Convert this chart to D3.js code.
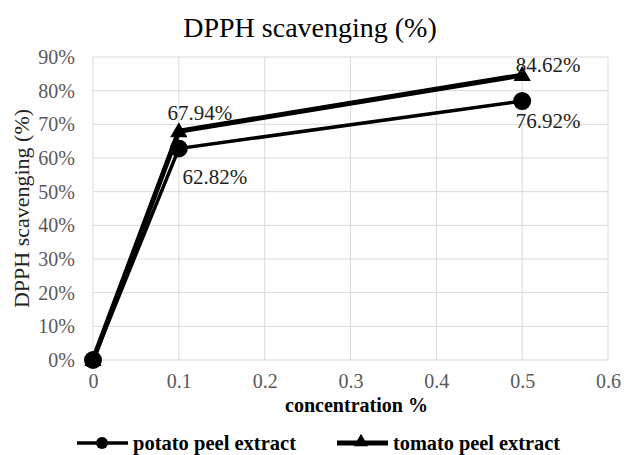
<!DOCTYPE html>
<html>
<head>
<meta charset="utf-8">
<script src="https://cdn.jsdelivr.net/npm/d3@7"></script>
<style>
  body { margin: 0; background: #fff; }
</style>
</head>
<body>
<svg id="chart" width="624" height="455"></svg>
<script>
// data
const concentrations = [0, 0.1, 0.5];
const potato = [0, 0.6282, 0.7692];
const tomato = [0, 0.6794, 0.8462];
const xTicks = [0, 0.1, 0.2, 0.3, 0.4, 0.5, 0.6];
const yTicks = [0, 0.1, 0.2, 0.3, 0.4, 0.5, 0.6, 0.7, 0.8, 0.9];
const seriesNames = ["potato peel extract", "tomato peel extract"];

const FONT = "'Liberation Serif', 'Times New Roman', serif";
const svg = d3.select("#chart");
const margin = { top: 57, right: 16, bottom: 95, left: 93 };
const width = 624, height = 455;

const x = d3.scaleLinear().domain([0, 0.6]).range([margin.left, width - margin.right]);
const y = d3.scaleLinear().domain([0, 0.9]).range([height - margin.bottom, margin.top]);

function translate(a, b) { return "translate(" + a + "," + b + ")"; }

// gridlines
svg.append("g").selectAll("line").data(yTicks).join("line")
  .attr("x1", x(0)).attr("x2", x(0.6))
  .attr("y1", d => y(d)).attr("y2", d => y(d))
  .attr("stroke", "#d9d9d9").attr("stroke-width", 1);
svg.append("g").selectAll("line").data(xTicks).join("line")
  .attr("x1", d => x(d)).attr("x2", d => x(d))
  .attr("y1", y(0)).attr("y2", y(0.9))
  .attr("stroke", "#d9d9d9").attr("stroke-width", 1);

// axes (labels only)
const yAxis = svg.append("g").attr("transform", translate(x(0) - 18, 0))
  .call(d3.axisLeft(y).tickValues(yTicks).tickFormat(d3.format(".0%")).tickSize(0).tickPadding(0));
yAxis.select(".domain").remove();
yAxis.selectAll("text").attr("font-family", FONT).attr("font-size", 20).attr("fill", "#595959");

const xAxis = svg.append("g").attr("transform", translate(0, y(0) + 14))
  .call(d3.axisBottom(x).tickValues(xTicks).tickFormat(d => d === 0 ? "0" : d3.format(".1f")(d)).tickSize(0).tickPadding(0));
xAxis.select(".domain").remove();
xAxis.selectAll("text").attr("font-family", FONT).attr("font-size", 20).attr("fill", "#595959");

// titles
svg.append("text").attr("x", 310).attr("y", 37).attr("text-anchor", "middle")
  .attr("font-family", FONT).attr("font-size", 28).attr("fill", "#000").text("DPPH scavenging (%)");
svg.append("text").attr("x", 285).attr("y", 412)
  .attr("font-family", FONT).attr("font-size", 21).attr("font-weight", "bold").attr("fill", "#000")
  .attr("textLength", 143).attr("lengthAdjust", "spacingAndGlyphs")
  .text("concentration %");
svg.append("text").attr("transform", translate(29, y(0.45)) + " rotate(-90)")
  .attr("text-anchor", "middle").attr("font-family", FONT).attr("font-size", 22).attr("fill", "#222")
  .text("DPPH scavenging (%)");

// lines
const line = d3.line().x((d, i) => x(concentrations[i])).y(d => y(d));
svg.append("path").datum(potato).attr("d", line)
  .attr("fill", "none").attr("stroke", "#000").attr("stroke-width", 3.5);
svg.append("path").datum(tomato).attr("d", line)
  .attr("fill", "none").attr("stroke", "#000").attr("stroke-width", 5);

// markers
const tri = d3.symbol().type(d3.symbolTriangle).size(130);
svg.append("g").selectAll("circle").data(potato).join("circle")
  .attr("cx", (d, i) => x(concentrations[i])).attr("cy", d => y(d))
  .attr("r", 9).attr("fill", "#000");
svg.append("g").selectAll("path").data(tomato).join("path")
  .attr("d", tri)
  .attr("transform", (d, i) => translate(x(concentrations[i]), y(d) + 1))
  .attr("fill", "#000");

// data labels
const fmt = d3.format(".2%");
const potatoLabelOffset = [null, [36, 35], [26, 27]];
const tomatoLabelOffset = [null, [21, -11], [26, -3]];
svg.append("g").selectAll("text").data(potato.slice(1)).join("text")
  .attr("x", (d, i) => x(concentrations[i + 1]) + potatoLabelOffset[i + 1][0])
  .attr("y", (d, i) => y(d) + potatoLabelOffset[i + 1][1])
  .attr("text-anchor", "middle").attr("font-family", FONT).attr("font-size", 21).attr("fill", "#222")
  .text(d => fmt(d));
svg.append("g").selectAll("text").data(tomato.slice(1)).join("text")
  .attr("x", (d, i) => x(concentrations[i + 1]) + tomatoLabelOffset[i + 1][0])
  .attr("y", (d, i) => y(d) + tomatoLabelOffset[i + 1][1])
  .attr("text-anchor", "middle").attr("font-family", FONT).attr("font-size", 21).attr("fill", "#222")
  .text(d => fmt(d));

// legend
const legend = svg.append("g").attr("transform", translate(0, 443));
const legendX = [77, 337];
const legendTextLen = [163, 167];
seriesNames.forEach(function(name, i) {
  const g = legend.append("g").attr("transform", translate(legendX[i], 0));
  g.append("line").attr("x1", 0).attr("x2", 51).attr("y1", 0).attr("y2", 0)
    .attr("stroke", "#000").attr("stroke-width", i === 0 ? 3.5 : 5);
  if (i === 0) g.append("circle").attr("cx", 25).attr("cy", 0).attr("r", 6).attr("fill", "#000");
  else g.append("path").attr("d", d3.symbol().type(d3.symbolTriangle).size(90)).attr("transform", translate(24, -1)).attr("fill", "#000");
  g.append("text").attr("x", 56).attr("y", 7).attr("font-family", FONT).attr("font-size", 22).attr("font-weight", "bold")
    .attr("textLength", legendTextLen[i]).attr("lengthAdjust", "spacingAndGlyphs")
    .attr("fill", "#000").text(name);
});
</script>
</body>
</html>
